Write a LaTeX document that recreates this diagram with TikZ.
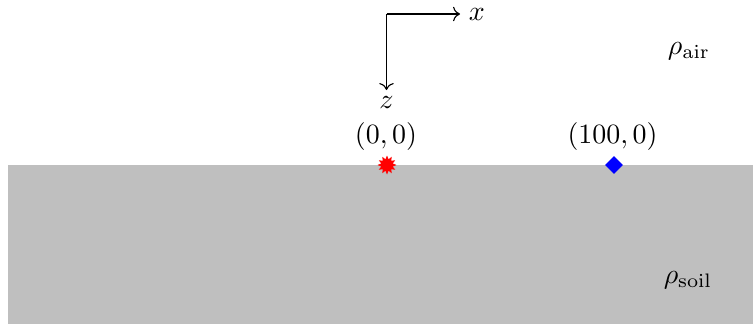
\documentclass[tikz,border=0pt]{standalone}
\usepackage{amsmath,amssymb}
\usepackage{tikz}
\usetikzlibrary{shapes.geometric,arrows.meta}

\tikzset{
  soil/.style={fill=black!25,draw=none},
  source/.style={star,star points=12,star point ratio=1.6,fill=red,inner sep=0pt,minimum size=6.8pt},
  receiver/.style={diamond,fill=blue,inner sep=0pt,minimum size=6.6pt},
}

\begin{document}
\begin{tikzpicture}[x=0.358pt,y=-0.358pt]
  \useasboundingbox (0,0) rectangle (753,324);

  % ground
  \fill[soil] (8,165) rectangle (753,324);

  % axes
  \coordinate (origin) at (386.5,14);
  \node[anchor=west,inner sep=3pt] (xlab) at (460,14) {$x$};
  \node[anchor=north,inner sep=2pt] (zlab) at (386.5,90) {$z$};
  \draw[->] (origin) -- (xlab.west);
  \draw[->] (origin) -- (zlab.north);

  % source and receiver
  \node[source] (src) at (387,165) {};
  \node[receiver] (rec) at (614,165) {};
  \node (srclab) at (386,137) {$(0,0)$};
  \node (reclab) at (612.5,137) {$(100,0)$};

  % media
  \node (air) at (689,51) {$\rho_{\mathrm{air}}$};
  \node (soilr) at (688,280) {$\rho_{\mathrm{soil}}$};
\end{tikzpicture}
\end{document}
